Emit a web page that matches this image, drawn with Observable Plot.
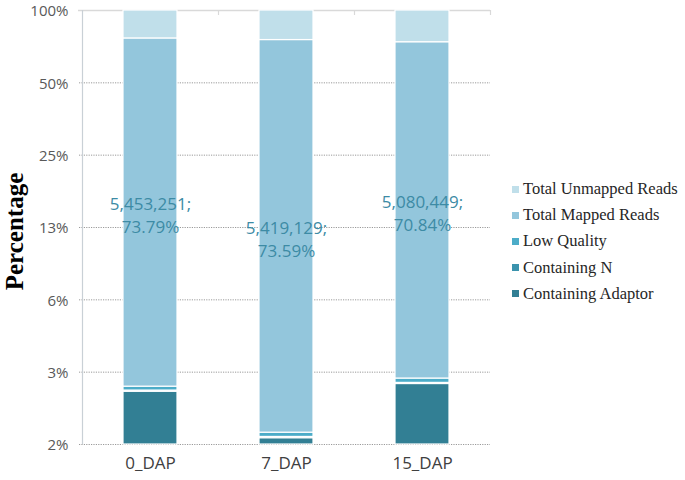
<!DOCTYPE html>
<html>
<head>
<meta charset="utf-8">
<script src="https://cdn.jsdelivr.net/npm/d3@7"></script>
<script src="https://cdn.jsdelivr.net/npm/@observablehq/plot@0.6"></script>
<style>
  html, body { margin: 0; padding: 0; background: #fff; }
  #wrap { position: relative; width: 685px; height: 480px; overflow: hidden; }
  #legend { position: absolute; left: 512px; top: 176px; font-family: "Liberation Serif", "Times New Roman", serif; font-size: 16.5px; color: #262626; }
  .item { height: 26.2px; display: flex; align-items: center; white-space: nowrap; }
  .sw { width: 7px; height: 7px; margin-right: 4px; display: inline-block; }
</style>
</head>
<body>
<div id="wrap"></div>
<script>
// ---- data ----
const categories = ["0_DAP", "7_DAP", "15_DAP"];
const seriesNames = ["Containing Adaptor", "Containing N", "Low Quality", "Total Mapped Reads", "Total Unmapped Reads"];
const seriesColors = ["#327f94", "#3b93ad", "#4cacc8", "#93c6dc", "#c0dfea"];
const containingAdaptor = [2.59, 1.66, 2.79];
const containingN = [0.03, 0.02, 0.03];
const lowQuality = [0.10, 0.07, 0.12];
const totalMapped = [73.79, 73.59, 70.84];
const totalUnmapped = [23.49, 24.66, 26.22];
const mappedReads = ["5,453,251", "5,419,129", "5,080,449"];
const yTicks = [1.5625, 3.125, 6.25, 12.5, 25, 50, 100];

// ---- build stacked table ----
const seriesValues = [containingAdaptor, containingN, lowQuality, totalMapped, totalUnmapped];
const rows = [];
categories.forEach((c, i) => {
  let cum = 0;
  seriesNames.forEach((s, k) => {
    const v = seriesValues[k][i];
    rows.push({cat: c, series: s, lo: Math.max(cum, yTicks[0]), hi: cum + v});
    cum += v;
  });
});
const labels = categories.map((c, i) => {
  const r = rows.find(d => d.cat === c && d.series === "Total Mapped Reads");
  return {cat: c, y: Math.sqrt(r.lo * r.hi), text: mappedReads[i] + ";\n" + totalMapped[i].toFixed(2) + "%"};
});

const W = 685, H = 480, ML = 82, MR = 195, MT = 10, MB = 36;
const step = (W - ML - MR) / categories.length;

const plot = Plot.plot({
  width: W, height: H,
  marginLeft: ML, marginRight: MR, marginTop: MT, marginBottom: MB,
  style: {fontFamily: "'Open Sans', sans-serif", fontSize: "15px", color: "#595959", background: "#fff"},
  x: {domain: categories, paddingInner: 0.6, paddingOuter: 0.3, label: null},
  y: {type: "log", base: 2, domain: [yTicks[0], yTicks[yTicks.length - 1]], label: null},
  color: {domain: seriesNames, range: seriesColors},
  marks: [
    Plot.ruleY(yTicks.slice(0, -1), {stroke: "#9a9a9a", strokeDasharray: "1.2,1.2", strokeWidth: 1, insetLeft: -3}),
    Plot.ruleY(yTicks.slice(-1), {stroke: "#d9d9d9", strokeWidth: 1.5, insetLeft: -4}),
    Plot.ruleX(categories, {x: d => d, y1: yTicks[yTicks.length - 1], y2: yTicks[yTicks.length - 1], dx: step / 2, stroke: "#d9d9d9", strokeWidth: 1.2, insetBottom: -5}),
    Plot.ruleX(categories.slice(0, 1), {x: d => d, y1: yTicks[0], y2: yTicks[yTicks.length - 1], dx: -step / 2, stroke: "#c9d0d6", strokeWidth: 1.2}),
    Plot.rectY(rows, {x: "cat", y1: "lo", y2: "hi", fill: "series", stroke: "#ffffff", strokeWidth: 1.2}),
    Plot.text(labels, {x: "cat", y: "y", text: "text", fill: "#3d8ba5", fontSize: 17, lineHeight: 1.35, dy: 2, fontFamily: "'Open Sans', sans-serif"}),
    Plot.axisY({ticks: yTicks, tickFormat: d => Math.round(d) + "%", tickSize: 0, tickPadding: 14, fontSize: 15, fill: "#595959", dy: 1}),
    Plot.axisX({tickSize: 0, tickPadding: 12, fontSize: 17, fill: "#404040"}),
    Plot.text(["Percentage"], {frameAnchor: "left", textAnchor: "middle", dx: -68, dy: 4, rotate: -90, fontFamily: "'Liberation Serif', 'Times New Roman', serif", fontWeight: "bold", fontSize: 25, fill: "#000"})
  ]
});

const wrap = document.getElementById("wrap");
wrap.appendChild(plot);

const legend = document.createElement("div");
legend.id = "legend";
[...seriesNames].reverse().forEach(s => {
  const item = document.createElement("div");
  item.className = "item";
  const sw = document.createElement("span");
  sw.className = "sw";
  sw.style.background = seriesColors[seriesNames.indexOf(s)];
  item.appendChild(sw);
  item.appendChild(document.createTextNode(s));
  legend.appendChild(item);
});
wrap.appendChild(legend);
</script>
</body>
</html>
